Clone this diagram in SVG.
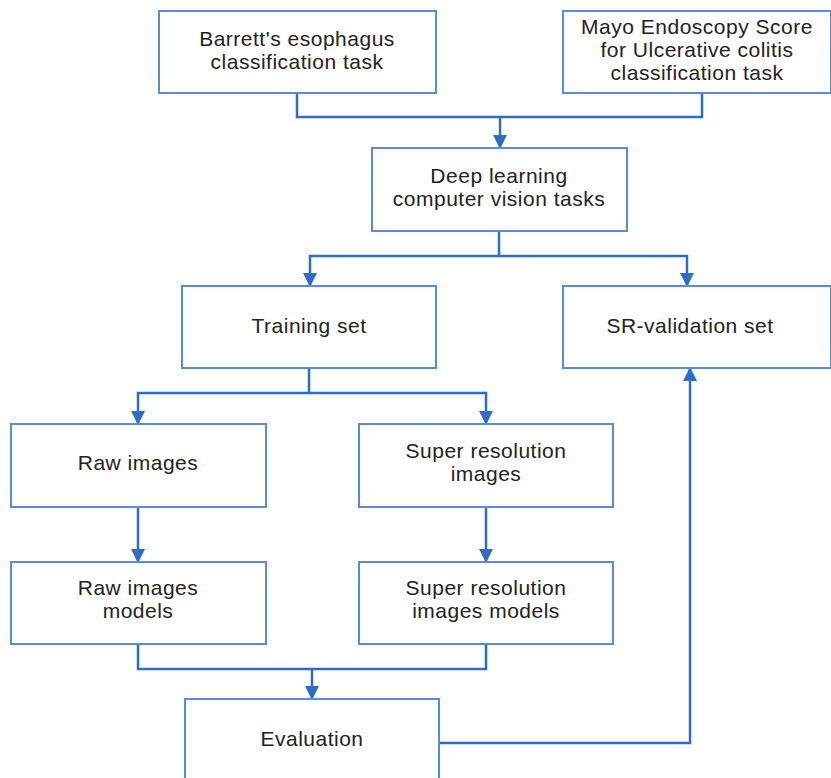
<svg xmlns="http://www.w3.org/2000/svg" width="831" height="778" viewBox="0 0 831 778">
<style>
.box{fill:#ffffff;stroke:#5b8ad8;stroke-width:2}
.lbl{font-family:"Liberation Sans",Arial,sans-serif;font-size:21px;letter-spacing:0.5px;fill:#222222;text-anchor:middle}
.con{fill:none;stroke:#2f6cc8;stroke-width:2.5}
</style>
<defs>
<marker id="ah" markerUnits="userSpaceOnUse" markerWidth="14" markerHeight="14" viewBox="0 0 14 14" refX="13" refY="7" orient="auto">
<path d="M0,0 L14,7 L0,14 Z" fill="#2f6cc8"/>
</marker>
</defs>
<rect width="831" height="778" fill="#ffffff"/>
<g id="connectors">
<path class="con" d="M297,93 V117 H702 V93"/>
<path class="con" d="M500,117 V148" marker-end="url(#ah)"/>
<path class="con" d="M499,231 V256 H310 V286" marker-end="url(#ah)"/>
<path class="con" d="M499,256 H687 V286" marker-end="url(#ah)"/>
<path class="con" d="M309,368 V393 H138 V424" marker-end="url(#ah)"/>
<path class="con" d="M309,393 H486 V424" marker-end="url(#ah)"/>
<path class="con" d="M138,507 V562" marker-end="url(#ah)"/>
<path class="con" d="M486,507 V562" marker-end="url(#ah)"/>
<path class="con" d="M138,644 V669 H486 V644"/>
<path class="con" d="M312,669 V699" marker-end="url(#ah)"/>
<path class="con" d="M439,743 H690 V368" marker-end="url(#ah)"/>
</g>
<g id="barrett">
<rect class="box" x="159" y="11" width="277" height="82"/>
<text class="lbl" x="297" y="46">Barrett's esophagus</text>
<text class="lbl" x="297" y="69">classification task</text>
</g>
<g id="mayo">
<rect class="box" x="563" y="11" width="268" height="82"/>
<text class="lbl" x="697" y="34">Mayo Endoscopy Score</text>
<text class="lbl" x="697" y="57">for Ulcerative colitis</text>
<text class="lbl" x="697" y="80">classification task</text>
</g>
<g id="deep">
<rect class="box" x="372" y="148" width="255" height="83"/>
<text class="lbl" x="499" y="183">Deep learning</text>
<text class="lbl" x="499" y="206">computer vision tasks</text>
</g>
<g id="training">
<rect class="box" x="182" y="286" width="254" height="82"/>
<text class="lbl" x="309" y="333">Training set</text>
</g>
<g id="srval">
<rect class="box" x="563" y="286" width="268" height="82"/>
<text class="lbl" x="690" y="333">SR-validation set</text>
</g>
<g id="raw">
<rect class="box" x="11" y="424" width="255" height="83"/>
<text class="lbl" x="138" y="470">Raw images</text>
</g>
<g id="sr">
<rect class="box" x="359" y="424" width="254" height="83"/>
<text class="lbl" x="486" y="458">Super resolution</text>
<text class="lbl" x="486" y="481">images</text>
</g>
<g id="rawmodels">
<rect class="box" x="11" y="562" width="255" height="82"/>
<text class="lbl" x="138" y="595">Raw images</text>
<text class="lbl" x="138" y="618">models</text>
</g>
<g id="srmodels">
<rect class="box" x="359" y="562" width="254" height="82"/>
<text class="lbl" x="486" y="595">Super resolution</text>
<text class="lbl" x="486" y="618">images models</text>
</g>
<g id="evaluation">
<rect class="box" x="185" y="699" width="254" height="90"/>
<text class="lbl" x="312" y="746">Evaluation</text>
</g>
</svg>
